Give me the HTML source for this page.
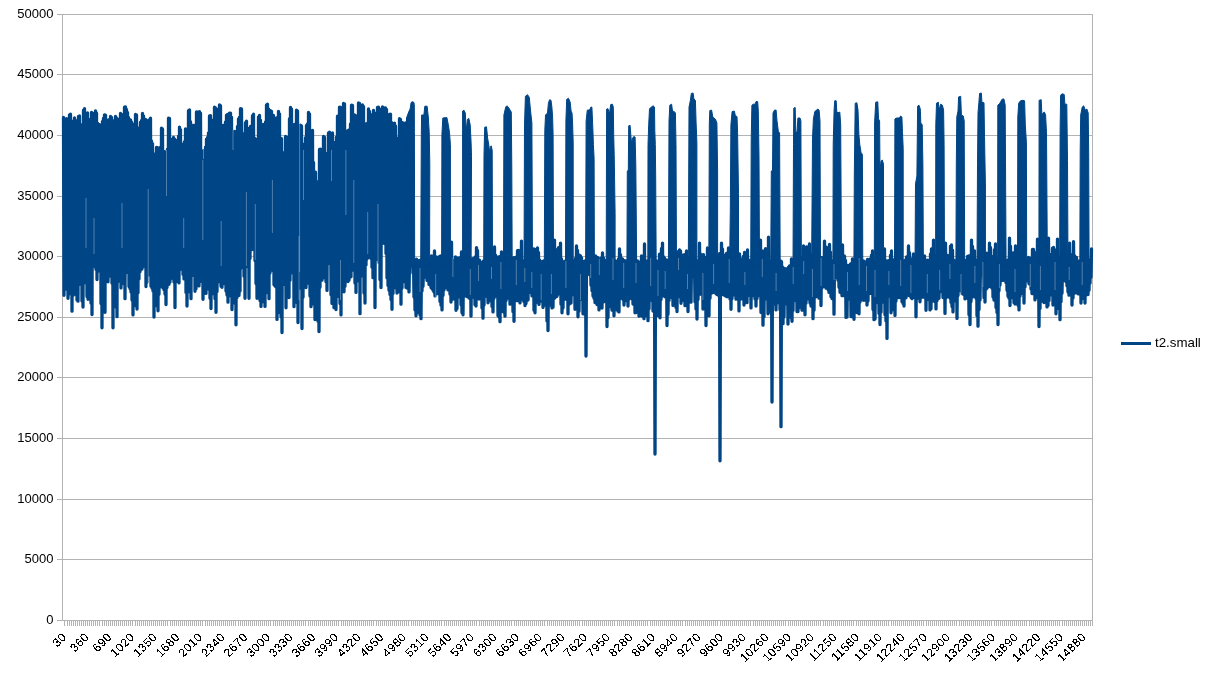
<!DOCTYPE html>
<html><head><meta charset="utf-8"><title>chart</title>
<style>
html,body{margin:0;padding:0;background:#fff;}
body{width:1220px;height:686px;position:relative;overflow:hidden;font-family:"Liberation Sans",sans-serif;}
svg text{font-family:"Liberation Sans",sans-serif;}
</style></head><body>
<svg width="1220" height="686" viewBox="0 0 1220 686" style="position:absolute;left:0;top:0;will-change:transform">
<path d="M57,14.5 H1092.5 M57,74.5 H1092.5 M57,135.5 H1092.5 M57,196.5 H1092.5 M57,256.5 H1092.5 M57,317.5 H1092.5 M57,377.5 H1092.5 M57,438.5 H1092.5 M57,499.5 H1092.5 M57,559.5 H1092.5 M57,620.5 H1092.5" stroke="#b3b3b3" stroke-width="1" fill="none" shape-rendering="crispEdges"/>
<path d="M62.5,14 V621 M1092.5,14 V621" stroke="#b3b3b3" stroke-width="1" fill="none" shape-rendering="crispEdges"/>
<path d="M64.5,620 V626 M67.5,620 V626 M69.5,620 V626 M71.5,620 V626 M73.5,620 V626 M75.5,620 V626 M77.5,620 V626 M79.5,620 V626 M81.5,620 V626 M83.5,620 V626 M85.5,620 V626 M87.5,620 V626 M89.5,620 V626 M91.5,620 V626 M93.5,620 V626 M95.5,620 V626 M97.5,620 V626 M99.5,620 V626 M102.5,620 V626 M104.5,620 V626 M106.5,620 V626 M108.5,620 V626 M110.5,620 V626 M112.5,620 V626 M114.5,620 V626 M116.5,620 V626 M118.5,620 V626 M120.5,620 V626 M122.5,620 V626 M124.5,620 V626 M126.5,620 V626 M128.5,620 V626 M130.5,620 V626 M132.5,620 V626 M135.5,620 V626 M137.5,620 V626 M139.5,620 V626 M141.5,620 V626 M143.5,620 V626 M145.5,620 V626 M147.5,620 V626 M149.5,620 V626 M151.5,620 V626 M153.5,620 V626 M155.5,620 V626 M157.5,620 V626 M159.5,620 V626 M161.5,620 V626 M163.5,620 V626 M165.5,620 V626 M167.5,620 V626 M170.5,620 V626 M172.5,620 V626 M174.5,620 V626 M176.5,620 V626 M178.5,620 V626 M180.5,620 V626 M182.5,620 V626 M184.5,620 V626 M186.5,620 V626 M188.5,620 V626 M190.5,620 V626 M192.5,620 V626 M194.5,620 V626 M196.5,620 V626 M198.5,620 V626 M200.5,620 V626 M202.5,620 V626 M205.5,620 V626 M207.5,620 V626 M209.5,620 V626 M211.5,620 V626 M213.5,620 V626 M215.5,620 V626 M217.5,620 V626 M219.5,620 V626 M221.5,620 V626 M223.5,620 V626 M225.5,620 V626 M227.5,620 V626 M229.5,620 V626 M231.5,620 V626 M233.5,620 V626 M235.5,620 V626 M238.5,620 V626 M240.5,620 V626 M242.5,620 V626 M244.5,620 V626 M246.5,620 V626 M248.5,620 V626 M250.5,620 V626 M252.5,620 V626 M254.5,620 V626 M256.5,620 V626 M258.5,620 V626 M260.5,620 V626 M262.5,620 V626 M264.5,620 V626 M266.5,620 V626 M268.5,620 V626 M270.5,620 V626 M273.5,620 V626 M275.5,620 V626 M277.5,620 V626 M279.5,620 V626 M281.5,620 V626 M283.5,620 V626 M285.5,620 V626 M287.5,620 V626 M289.5,620 V626 M291.5,620 V626 M293.5,620 V626 M295.5,620 V626 M297.5,620 V626 M299.5,620 V626 M301.5,620 V626 M303.5,620 V626 M305.5,620 V626 M308.5,620 V626 M310.5,620 V626 M312.5,620 V626 M314.5,620 V626 M316.5,620 V626 M318.5,620 V626 M320.5,620 V626 M322.5,620 V626 M324.5,620 V626 M326.5,620 V626 M328.5,620 V626 M330.5,620 V626 M332.5,620 V626 M334.5,620 V626 M336.5,620 V626 M338.5,620 V626 M341.5,620 V626 M343.5,620 V626 M345.5,620 V626 M347.5,620 V626 M349.5,620 V626 M351.5,620 V626 M353.5,620 V626 M355.5,620 V626 M357.5,620 V626 M359.5,620 V626 M361.5,620 V626 M363.5,620 V626 M365.5,620 V626 M367.5,620 V626 M369.5,620 V626 M371.5,620 V626 M373.5,620 V626 M376.5,620 V626 M378.5,620 V626 M380.5,620 V626 M382.5,620 V626 M384.5,620 V626 M386.5,620 V626 M388.5,620 V626 M390.5,620 V626 M392.5,620 V626 M394.5,620 V626 M396.5,620 V626 M398.5,620 V626 M400.5,620 V626 M402.5,620 V626 M404.5,620 V626 M406.5,620 V626 M408.5,620 V626 M411.5,620 V626 M413.5,620 V626 M415.5,620 V626 M417.5,620 V626 M419.5,620 V626 M421.5,620 V626 M423.5,620 V626 M425.5,620 V626 M427.5,620 V626 M429.5,620 V626 M431.5,620 V626 M433.5,620 V626 M435.5,620 V626 M437.5,620 V626 M439.5,620 V626 M441.5,620 V626 M444.5,620 V626 M446.5,620 V626 M448.5,620 V626 M450.5,620 V626 M452.5,620 V626 M454.5,620 V626 M456.5,620 V626 M458.5,620 V626 M460.5,620 V626 M462.5,620 V626 M464.5,620 V626 M466.5,620 V626 M468.5,620 V626 M470.5,620 V626 M472.5,620 V626 M474.5,620 V626 M476.5,620 V626 M479.5,620 V626 M481.5,620 V626 M483.5,620 V626 M485.5,620 V626 M487.5,620 V626 M489.5,620 V626 M491.5,620 V626 M493.5,620 V626 M495.5,620 V626 M497.5,620 V626 M499.5,620 V626 M501.5,620 V626 M503.5,620 V626 M505.5,620 V626 M507.5,620 V626 M509.5,620 V626 M511.5,620 V626 M514.5,620 V626 M516.5,620 V626 M518.5,620 V626 M520.5,620 V626 M522.5,620 V626 M524.5,620 V626 M526.5,620 V626 M528.5,620 V626 M530.5,620 V626 M532.5,620 V626 M534.5,620 V626 M536.5,620 V626 M538.5,620 V626 M540.5,620 V626 M542.5,620 V626 M544.5,620 V626 M547.5,620 V626 M549.5,620 V626 M551.5,620 V626 M553.5,620 V626 M555.5,620 V626 M557.5,620 V626 M559.5,620 V626 M561.5,620 V626 M563.5,620 V626 M565.5,620 V626 M567.5,620 V626 M569.5,620 V626 M571.5,620 V626 M573.5,620 V626 M575.5,620 V626 M577.5,620 V626 M579.5,620 V626 M582.5,620 V626 M584.5,620 V626 M586.5,620 V626 M588.5,620 V626 M590.5,620 V626 M592.5,620 V626 M594.5,620 V626 M596.5,620 V626 M598.5,620 V626 M600.5,620 V626 M602.5,620 V626 M604.5,620 V626 M606.5,620 V626 M608.5,620 V626 M610.5,620 V626 M612.5,620 V626 M614.5,620 V626 M617.5,620 V626 M619.5,620 V626 M621.5,620 V626 M623.5,620 V626 M625.5,620 V626 M627.5,620 V626 M629.5,620 V626 M631.5,620 V626 M633.5,620 V626 M635.5,620 V626 M637.5,620 V626 M639.5,620 V626 M641.5,620 V626 M643.5,620 V626 M645.5,620 V626 M647.5,620 V626 M650.5,620 V626 M652.5,620 V626 M654.5,620 V626 M656.5,620 V626 M658.5,620 V626 M660.5,620 V626 M662.5,620 V626 M664.5,620 V626 M666.5,620 V626 M668.5,620 V626 M670.5,620 V626 M672.5,620 V626 M674.5,620 V626 M676.5,620 V626 M678.5,620 V626 M680.5,620 V626 M682.5,620 V626 M685.5,620 V626 M687.5,620 V626 M689.5,620 V626 M691.5,620 V626 M693.5,620 V626 M695.5,620 V626 M697.5,620 V626 M699.5,620 V626 M701.5,620 V626 M703.5,620 V626 M705.5,620 V626 M707.5,620 V626 M709.5,620 V626 M711.5,620 V626 M713.5,620 V626 M715.5,620 V626 M717.5,620 V626 M720.5,620 V626 M722.5,620 V626 M724.5,620 V626 M726.5,620 V626 M728.5,620 V626 M730.5,620 V626 M732.5,620 V626 M734.5,620 V626 M736.5,620 V626 M738.5,620 V626 M740.5,620 V626 M742.5,620 V626 M744.5,620 V626 M746.5,620 V626 M748.5,620 V626 M750.5,620 V626 M753.5,620 V626 M755.5,620 V626 M757.5,620 V626 M759.5,620 V626 M761.5,620 V626 M763.5,620 V626 M765.5,620 V626 M767.5,620 V626 M769.5,620 V626 M771.5,620 V626 M773.5,620 V626 M775.5,620 V626 M777.5,620 V626 M779.5,620 V626 M781.5,620 V626 M783.5,620 V626 M785.5,620 V626 M788.5,620 V626 M790.5,620 V626 M792.5,620 V626 M794.5,620 V626 M796.5,620 V626 M798.5,620 V626 M800.5,620 V626 M802.5,620 V626 M804.5,620 V626 M806.5,620 V626 M808.5,620 V626 M810.5,620 V626 M812.5,620 V626 M814.5,620 V626 M816.5,620 V626 M818.5,620 V626 M820.5,620 V626 M823.5,620 V626 M825.5,620 V626 M827.5,620 V626 M829.5,620 V626 M831.5,620 V626 M833.5,620 V626 M835.5,620 V626 M837.5,620 V626 M839.5,620 V626 M841.5,620 V626 M843.5,620 V626 M845.5,620 V626 M847.5,620 V626 M849.5,620 V626 M851.5,620 V626 M853.5,620 V626 M856.5,620 V626 M858.5,620 V626 M860.5,620 V626 M862.5,620 V626 M864.5,620 V626 M866.5,620 V626 M868.5,620 V626 M870.5,620 V626 M872.5,620 V626 M874.5,620 V626 M876.5,620 V626 M878.5,620 V626 M880.5,620 V626 M882.5,620 V626 M884.5,620 V626 M886.5,620 V626 M888.5,620 V626 M891.5,620 V626 M893.5,620 V626 M895.5,620 V626 M897.5,620 V626 M899.5,620 V626 M901.5,620 V626 M903.5,620 V626 M905.5,620 V626 M907.5,620 V626 M909.5,620 V626 M911.5,620 V626 M913.5,620 V626 M915.5,620 V626 M917.5,620 V626 M919.5,620 V626 M921.5,620 V626 M923.5,620 V626 M926.5,620 V626 M928.5,620 V626 M930.5,620 V626 M932.5,620 V626 M934.5,620 V626 M936.5,620 V626 M938.5,620 V626 M940.5,620 V626 M942.5,620 V626 M944.5,620 V626 M946.5,620 V626 M948.5,620 V626 M950.5,620 V626 M952.5,620 V626 M954.5,620 V626 M956.5,620 V626 M959.5,620 V626 M961.5,620 V626 M963.5,620 V626 M965.5,620 V626 M967.5,620 V626 M969.5,620 V626 M971.5,620 V626 M973.5,620 V626 M975.5,620 V626 M977.5,620 V626 M979.5,620 V626 M981.5,620 V626 M983.5,620 V626 M985.5,620 V626 M987.5,620 V626 M989.5,620 V626 M991.5,620 V626 M994.5,620 V626 M996.5,620 V626 M998.5,620 V626 M1000.5,620 V626 M1002.5,620 V626 M1004.5,620 V626 M1006.5,620 V626 M1008.5,620 V626 M1010.5,620 V626 M1012.5,620 V626 M1014.5,620 V626 M1016.5,620 V626 M1018.5,620 V626 M1020.5,620 V626 M1022.5,620 V626 M1024.5,620 V626 M1026.5,620 V626 M1029.5,620 V626 M1031.5,620 V626 M1033.5,620 V626 M1035.5,620 V626 M1037.5,620 V626 M1039.5,620 V626 M1041.5,620 V626 M1043.5,620 V626 M1045.5,620 V626 M1047.5,620 V626 M1049.5,620 V626 M1051.5,620 V626 M1053.5,620 V626 M1055.5,620 V626 M1057.5,620 V626 M1059.5,620 V626 M1062.5,620 V626 M1064.5,620 V626 M1066.5,620 V626 M1068.5,620 V626 M1070.5,620 V626 M1072.5,620 V626 M1074.5,620 V626 M1076.5,620 V626 M1078.5,620 V626 M1080.5,620 V626 M1082.5,620 V626 M1084.5,620 V626 M1086.5,620 V626 M1088.5,620 V626 M1090.5,620 V626 M1092.5,620 V626" stroke="#b3b3b3" stroke-width="1" fill="none" shape-rendering="crispEdges"/>
<path d="M63.5,117.5 L64.0,295.3 L64.5,135.1 L65.0,287.9 L65.5,121.2 L66.0,279.0 L66.5,118.7 L67.0,289.4 L67.5,122.9 L68.0,298.3 L68.5,126.1 L69.0,294.0 L69.5,115.0 L70.0,287.4 L70.5,114.2 L71.0,293.4 L71.5,121.0 L72.0,311.2 L72.5,122.9 L73.0,295.4 L73.5,123.7 L74.0,292.6 L74.5,117.9 L75.0,293.5 L75.5,120.4 L76.0,294.6 L76.5,124.3 L77.0,300.0 L77.5,124.5 L78.0,301.2 L78.5,116.3 L79.0,284.6 L79.5,116.0 L80.0,277.3 L80.5,129.6 L81.0,280.7 L81.5,129.5 L82.0,301.0 L82.5,124.4 L83.0,307.1 L83.5,110.1 L84.0,283.1 L84.5,108.6 L85.0,274.9 L85.5,113.7 L86.0,275.5 L86.5,115.3 L87.0,296.6 L87.5,112.8 L88.0,299.3 L88.5,119.1 L89.0,297.4 L89.5,126.1 L90.0,289.9 L90.5,124.2 L91.0,303.1 L91.5,112.3 L92.0,314.5 L92.5,113.1 L93.0,266.8 L93.5,123.8 L94.0,247.3 L94.5,123.9 L95.0,242.9 L95.5,110.8 L96.0,269.4 L96.5,113.0 L97.0,279.5 L97.5,123.2 L98.0,271.3 L98.5,125.8 L99.0,263.0 L99.5,124.6 L100.0,270.1 L100.5,135.0 L101.0,303.6 L101.5,134.8 L102.0,327.8 L102.5,121.3 L103.0,300.6 L103.5,118.2 L104.0,294.1 L104.5,114.8 L105.0,312.3 L105.5,115.1 L106.0,280.7 L106.5,121.0 L107.0,274.9 L107.5,123.4 L108.0,281.8 L108.5,119.9 L109.0,276.4 L109.5,120.5 L110.0,268.0 L110.5,116.5 L111.0,269.8 L111.5,117.3 L112.0,283.2 L112.5,124.5 L113.0,327.8 L113.5,120.8 L114.0,304.5 L114.5,120.9 L115.0,299.4 L115.5,116.5 L116.0,307.0 L116.5,117.8 L117.0,316.7 L117.5,119.7 L118.0,281.6 L118.5,119.3 L119.0,272.5 L119.5,119.5 L120.0,280.5 L120.5,113.5 L121.0,287.9 L121.5,114.3 L122.0,283.8 L122.5,121.4 L123.0,277.7 L123.5,119.9 L124.0,282.3 L124.5,107.2 L125.0,298.7 L125.5,106.9 L126.0,272.8 L126.5,109.5 L127.0,271.0 L127.5,112.3 L128.0,270.4 L128.5,117.5 L129.0,286.5 L129.5,122.0 L130.0,288.6 L130.5,119.8 L131.0,292.0 L131.5,122.0 L132.0,300.0 L132.5,126.7 L133.0,314.9 L133.5,125.9 L134.0,305.8 L134.5,123.9 L135.0,296.5 L135.5,114.5 L136.0,303.8 L136.5,114.8 L137.0,309.0 L137.5,128.0 L138.0,292.8 L138.5,128.1 L139.0,278.9 L139.5,127.8 L140.0,271.7 L140.5,122.2 L141.0,266.1 L141.5,120.5 L142.0,269.0 L142.5,113.4 L143.0,266.5 L143.5,115.9 L144.0,261.3 L144.5,123.1 L145.0,264.9 L145.5,119.5 L146.0,286.5 L146.5,121.8 L147.0,282.3 L147.5,129.0 L148.0,273.0 L148.5,120.1 L149.0,273.5 L149.5,120.7 L150.0,275.2 L150.5,118.2 L151.0,286.2 L151.5,141.0 L152.0,288.1 L152.5,143.6 L153.0,290.9 L153.5,153.6 L154.0,317.0 L154.5,156.0 L155.0,302.4 L155.5,156.2 L156.0,296.4 L156.5,147.4 L157.0,305.9 L157.5,147.6 L158.0,310.8 L158.5,161.2 L159.0,294.3 L159.5,153.0 L160.0,283.7 L160.5,147.2 L161.0,278.3 L161.5,128.1 L162.0,287.0 L162.5,128.9 L163.0,287.9 L163.5,167.0 L164.0,289.7 L164.5,151.7 L165.0,294.0 L165.5,157.6 L166.0,304.6 L166.5,156.0 L167.0,287.6 L167.5,149.2 L168.0,278.2 L168.5,118.2 L169.0,284.3 L169.5,118.5 L170.0,282.1 L170.5,138.8 L171.0,275.9 L171.5,140.1 L172.0,273.3 L172.5,140.0 L173.0,278.5 L173.5,137.4 L174.0,282.1 L174.5,138.9 L175.0,307.5 L175.5,143.8 L176.0,281.7 L176.5,140.7 L177.0,280.9 L177.5,141.9 L178.0,280.3 L178.5,136.2 L179.0,282.9 L179.5,127.1 L180.0,269.6 L180.5,129.6 L181.0,267.5 L181.5,144.1 L182.0,266.2 L182.5,146.0 L183.0,274.4 L183.5,143.8 L184.0,278.9 L184.5,141.7 L185.0,273.3 L185.5,129.0 L186.0,292.4 L186.5,131.5 L187.0,306.1 L187.5,138.6 L188.0,282.2 L188.5,110.6 L189.0,281.3 L189.5,109.8 L190.0,292.0 L190.5,121.6 L191.0,298.7 L191.5,124.8 L192.0,275.7 L192.5,125.8 L193.0,265.6 L193.5,125.4 L194.0,266.2 L194.5,129.2 L195.0,291.3 L195.5,124.9 L196.0,288.8 L196.5,111.9 L197.0,280.5 L197.5,112.2 L198.0,279.8 L198.5,127.5 L199.0,285.9 L199.5,111.6 L200.0,281.7 L200.5,113.1 L201.0,275.5 L201.5,158.0 L202.0,281.6 L202.5,158.9 L203.0,299.3 L203.5,150.6 L204.0,283.3 L204.5,156.0 L205.0,282.9 L205.5,147.1 L206.0,293.4 L206.5,139.1 L207.0,287.7 L207.5,137.3 L208.0,288.1 L208.5,132.8 L209.0,289.3 L209.5,116.0 L210.0,298.3 L210.5,115.7 L211.0,308.6 L211.5,119.8 L212.0,294.1 L212.5,126.4 L213.0,267.6 L213.5,126.5 L214.0,270.9 L214.5,107.2 L215.0,298.7 L215.5,108.0 L216.0,312.3 L216.5,122.4 L217.0,291.6 L217.5,122.3 L218.0,282.0 L218.5,109.0 L219.0,281.0 L219.5,104.9 L220.0,279.0 L220.5,105.7 L221.0,286.3 L221.5,137.1 L222.0,287.3 L222.5,125.6 L223.0,280.1 L223.5,125.4 L224.0,282.1 L224.5,125.1 L225.0,283.8 L225.5,122.0 L226.0,291.1 L226.5,115.2 L227.0,295.0 L227.5,114.4 L228.0,302.2 L228.5,114.8 L229.0,296.0 L229.5,113.1 L230.0,289.0 L230.5,113.1 L231.0,294.4 L231.5,117.1 L232.0,309.6 L232.5,131.5 L233.0,294.0 L233.5,137.4 L234.0,289.1 L234.5,131.3 L235.0,303.2 L235.5,140.2 L236.0,324.8 L236.5,140.0 L237.0,297.5 L237.5,126.3 L238.0,289.1 L238.5,118.8 L239.0,295.4 L239.5,117.1 L240.0,291.1 L240.5,108.6 L241.0,268.1 L241.5,108.9 L242.0,258.5 L242.5,134.5 L243.0,256.7 L243.5,135.6 L244.0,276.3 L244.5,133.3 L245.0,298.3 L245.5,122.7 L246.0,253.0 L246.5,121.2 L247.0,248.8 L247.5,139.1 L248.0,266.8 L248.5,139.0 L249.0,298.3 L249.5,128.1 L250.0,258.5 L250.5,126.4 L251.0,244.3 L251.5,133.7 L252.0,249.6 L252.5,115.7 L253.0,247.4 L253.5,114.2 L254.0,243.5 L254.5,138.1 L255.0,260.6 L255.5,140.4 L256.0,283.5 L256.5,139.4 L257.0,298.3 L257.5,140.1 L258.0,283.8 L258.5,116.8 L259.0,284.8 L259.5,115.3 L260.0,300.6 L260.5,120.2 L261.0,306.4 L261.5,124.1 L262.0,302.0 L262.5,124.6 L263.0,294.8 L263.5,125.2 L264.0,301.8 L264.5,124.2 L265.0,306.4 L265.5,121.9 L266.0,292.9 L266.5,105.0 L267.0,280.1 L267.5,104.2 L268.0,280.2 L268.5,108.8 L269.0,298.7 L269.5,121.7 L270.0,273.1 L270.5,110.7 L271.0,260.5 L271.5,111.3 L272.0,262.1 L272.5,116.7 L273.0,270.5 L273.5,115.5 L274.0,284.7 L274.5,117.8 L275.0,286.1 L275.5,131.4 L276.0,286.9 L276.5,118.0 L277.0,319.4 L277.5,120.4 L278.0,312.8 L278.5,111.3 L279.0,302.0 L279.5,113.8 L280.0,309.0 L280.5,147.5 L281.0,316.8 L281.5,138.6 L282.0,332.6 L282.5,152.7 L283.0,274.8 L283.5,152.9 L284.0,279.0 L284.5,152.6 L285.0,284.4 L285.5,136.4 L286.0,307.8 L286.5,137.2 L287.0,297.3 L287.5,147.6 L288.0,291.8 L288.5,146.5 L289.0,297.6 L289.5,118.7 L290.0,280.3 L290.5,107.5 L291.0,250.7 L291.5,109.0 L292.0,247.3 L292.5,130.1 L293.0,273.2 L293.5,132.0 L294.0,306.7 L294.5,124.4 L295.0,284.5 L295.5,124.7 L296.0,280.5 L296.5,110.1 L297.0,302.6 L297.5,110.9 L298.0,322.6 L298.5,127.5 L299.0,263.3 L299.5,127.4 L300.0,268.3 L300.5,125.2 L301.0,288.4 L301.5,126.0 L302.0,328.5 L302.5,149.7 L303.0,297.3 L303.5,153.7 L304.0,281.3 L304.5,143.9 L305.0,279.8 L305.5,137.6 L306.0,287.6 L306.5,125.3 L307.0,282.7 L307.5,123.8 L308.0,282.8 L308.5,112.3 L309.0,283.5 L309.5,113.8 L310.0,296.0 L310.5,144.6 L311.0,306.7 L311.5,131.8 L312.0,303.1 L312.5,130.3 L313.0,295.4 L313.5,162.5 L314.0,304.2 L314.5,177.6 L315.0,319.6 L315.5,172.2 L316.0,307.7 L316.5,183.6 L317.0,307.3 L317.5,183.8 L318.0,321.3 L318.5,181.3 L319.0,331.5 L319.5,149.5 L320.0,287.3 L320.5,149.2 L321.0,274.2 L321.5,155.0 L322.0,280.2 L322.5,154.9 L323.0,278.1 L323.5,136.4 L324.0,275.7 L324.5,137.2 L325.0,276.3 L325.5,155.4 L326.0,281.7 L326.5,156.6 L327.0,290.4 L327.5,153.2 L328.0,262.7 L328.5,133.0 L329.0,251.3 L329.5,132.2 L330.0,263.8 L330.5,133.7 L331.0,294.8 L331.5,134.5 L332.0,303.4 L332.5,133.0 L333.0,296.4 L333.5,142.5 L334.0,307.7 L334.5,142.6 L335.0,305.5 L335.5,142.4 L336.0,309.6 L336.5,137.1 L337.0,269.6 L337.5,116.2 L338.0,271.3 L338.5,123.3 L339.0,296.7 L339.5,107.2 L340.0,303.5 L340.5,107.5 L341.0,314.9 L341.5,148.1 L342.0,281.4 L342.5,140.9 L343.0,280.9 L343.5,103.5 L344.0,291.8 L344.5,103.8 L345.0,286.3 L345.5,139.1 L346.0,279.0 L346.5,139.3 L347.0,276.5 L347.5,131.0 L348.0,281.5 L348.5,130.2 L349.0,280.2 L349.5,133.2 L350.0,272.8 L350.5,123.9 L351.0,276.8 L351.5,105.2 L352.0,270.1 L352.5,105.5 L353.0,270.1 L353.5,116.2 L354.0,270.1 L354.5,115.0 L355.0,283.1 L355.5,115.7 L356.0,292.4 L356.5,119.2 L357.0,260.2 L357.5,118.2 L358.0,244.6 L358.5,103.0 L359.0,281.2 L359.5,103.3 L360.0,313.7 L360.5,119.1 L361.0,269.4 L361.5,105.7 L362.0,270.3 L362.5,104.9 L363.0,276.2 L363.5,106.4 L364.0,293.1 L364.5,134.5 L365.0,303.1 L365.5,135.2 L366.0,265.0 L366.5,123.7 L367.0,259.1 L367.5,123.2 L368.0,257.8 L368.5,108.9 L369.0,251.4 L369.5,111.4 L370.0,244.8 L370.5,115.9 L371.0,258.6 L371.5,115.0 L372.0,267.2 L372.5,115.5 L373.0,277.7 L373.5,110.3 L374.0,277.7 L374.5,118.3 L375.0,307.5 L375.5,118.2 L376.0,259.7 L376.5,113.0 L377.0,241.9 L377.5,107.5 L378.0,239.1 L378.5,107.2 L379.0,262.8 L379.5,108.9 L380.0,279.6 L380.5,111.6 L381.0,287.5 L381.5,111.1 L382.0,239.1 L382.5,106.9 L383.0,238.7 L383.5,107.7 L384.0,243.3 L384.5,112.3 L385.0,242.2 L385.5,107.9 L386.0,253.4 L386.5,109.4 L387.0,277.9 L387.5,120.5 L388.0,285.6 L388.5,116.3 L389.0,290.3 L389.5,114.5 L390.0,294.4 L390.5,114.2 L391.0,299.6 L391.5,122.3 L392.0,309.3 L392.5,123.4 L393.0,293.4 L393.5,124.6 L394.0,287.4 L394.5,123.2 L395.0,287.3 L395.5,125.9 L396.0,288.0 L396.5,138.5 L397.0,293.0 L397.5,138.5 L398.0,292.0 L398.5,138.9 L399.0,286.8 L399.5,118.7 L400.0,289.8 L400.5,119.5 L401.0,304.2 L401.5,125.7 L402.0,288.0 L402.5,122.7 L403.0,281.7 L403.5,123.7 L404.0,281.6 L404.5,134.7 L405.0,281.2 L405.5,122.8 L406.0,287.4 L406.5,261.0 L407.0,288.0 L407.5,261.0 L408.0,279.5 L408.5,261.0 L409.0,291.9 L409.5,261.0 L410.0,245.8 L410.5,261.0 L411.0,244.0 L411.5,261.0 L412.0,262.5 L412.5,261.0 L413.0,273.2 L413.5,261.0 L414.0,297.1 L414.5,261.0 L415.0,309.9 L415.5,261.0 L416.0,315.8 L416.5,259.1 L417.0,312.8 L417.5,260.3 L418.0,299.9 L418.5,264.1 L419.0,299.9 L419.5,260.5 L420.0,315.0 L420.5,261.0 L421.0,318.7 L421.5,261.0 L422.0,290.9 L422.5,261.0 L423.0,286.3 L423.5,261.0 L424.0,275.1 L424.5,261.0 L425.0,277.1 L425.5,261.0 L426.0,276.2 L426.5,261.0 L427.0,280.4 L427.5,261.0 L428.0,279.2 L428.5,261.0 L429.0,284.4 L429.5,261.0 L430.0,284.8 L430.5,261.0 L431.0,287.5 L431.5,255.9 L432.0,288.7 L432.5,257.2 L433.0,290.3 L433.5,257.0 L434.0,292.0 L434.5,250.9 L435.0,295.9 L435.5,256.5 L436.0,293.6 L436.5,260.0 L437.0,293.6 L437.5,260.0 L438.0,293.6 L438.5,256.8 L439.0,293.6 L439.5,265.6 L440.0,301.4 L440.5,255.8 L441.0,305.2 L441.5,261.0 L442.0,309.9 L442.5,261.0 L443.0,295.4 L443.5,261.0 L444.0,289.9 L444.5,261.0 L445.0,287.9 L445.5,261.0 L446.0,286.8 L446.5,261.0 L447.0,287.1 L447.5,261.0 L448.0,289.9 L448.5,261.0 L449.0,285.8 L449.5,261.0 L450.0,294.2 L450.5,261.0 L451.0,302.0 L451.5,242.1 L452.0,296.4 L452.5,263.3 L453.0,299.1 L453.5,260.3 L454.0,298.8 L454.5,261.1 L455.0,299.1 L455.5,257.0 L456.0,310.3 L456.5,258.3 L457.0,308.4 L457.5,258.2 L458.0,297.2 L458.5,258.1 L459.0,296.2 L459.5,258.0 L460.0,295.5 L460.5,261.8 L461.0,304.8 L461.5,251.9 L462.0,312.7 L462.5,261.0 L463.0,314.8 L463.5,261.0 L464.0,294.2 L464.5,261.0 L465.0,295.9 L465.5,261.0 L466.0,295.9 L466.5,261.0 L467.0,296.6 L467.5,261.0 L468.0,294.9 L468.5,261.0 L469.0,298.0 L469.5,261.0 L470.0,298.0 L470.5,261.0 L471.0,316.2 L471.5,261.0 L472.0,297.1 L472.5,258.6 L473.0,297.1 L473.5,264.3 L474.0,297.1 L474.5,258.0 L475.0,304.8 L475.5,256.6 L476.0,306.0 L476.5,247.6 L477.0,296.3 L477.5,250.4 L478.0,296.3 L478.5,260.1 L479.0,299.1 L479.5,260.1 L480.0,295.3 L480.5,261.8 L481.0,295.3 L481.5,266.0 L482.0,308.1 L482.5,263.5 L483.0,318.2 L483.5,261.0 L484.0,305.1 L484.5,261.0 L485.0,293.5 L485.5,261.0 L486.0,293.5 L486.5,261.0 L487.0,296.6 L487.5,261.0 L488.0,302.8 L488.5,261.0 L489.0,300.6 L489.5,261.0 L490.0,300.6 L490.5,261.0 L491.0,300.6 L491.5,261.0 L492.0,306.4 L492.5,261.0 L493.0,311.9 L493.5,263.6 L494.0,298.3 L494.5,247.0 L495.0,296.3 L495.5,255.2 L496.0,295.1 L496.5,256.6 L497.0,294.3 L497.5,257.1 L498.0,315.7 L498.5,257.3 L499.0,317.1 L499.5,256.6 L500.0,321.7 L500.5,257.3 L501.0,311.9 L501.5,251.9 L502.0,302.1 L502.5,261.0 L503.0,302.3 L503.5,261.0 L504.0,312.3 L504.5,261.0 L505.0,316.2 L505.5,261.0 L506.0,300.7 L506.5,261.0 L507.0,286.4 L507.5,261.0 L508.0,290.2 L508.5,261.0 L509.0,298.4 L509.5,261.0 L510.0,304.2 L510.5,261.0 L511.0,296.2 L511.5,261.0 L512.0,296.2 L512.5,261.0 L513.0,311.7 L513.5,257.7 L514.0,321.3 L514.5,259.5 L515.0,299.3 L515.5,257.4 L516.0,300.5 L516.5,257.2 L517.0,300.5 L517.5,250.6 L518.0,300.5 L518.5,250.3 L519.0,297.6 L519.5,256.6 L520.0,302.9 L520.5,254.9 L521.0,299.6 L521.5,241.1 L522.0,299.6 L522.5,262.2 L523.0,298.6 L523.5,261.0 L524.0,301.7 L524.5,261.0 L525.0,305.6 L525.5,261.0 L526.0,303.6 L526.5,261.0 L527.0,300.1 L527.5,261.0 L528.0,300.1 L528.5,261.0 L529.0,291.0 L529.5,261.0 L530.0,287.7 L530.5,261.0 L531.0,292.7 L531.5,261.0 L532.0,295.9 L532.5,261.0 L533.0,295.9 L533.5,248.9 L534.0,310.3 L534.5,249.2 L535.0,312.8 L535.5,252.4 L536.0,302.6 L536.5,252.4 L537.0,297.5 L537.5,247.9 L538.0,297.5 L538.5,252.5 L539.0,304.4 L539.5,259.9 L540.0,301.4 L540.5,261.2 L541.0,297.1 L541.5,261.7 L542.0,297.1 L542.5,263.3 L543.0,307.4 L543.5,261.0 L544.0,299.1 L544.5,261.0 L545.0,304.5 L545.5,261.0 L546.0,305.4 L546.5,261.0 L547.0,320.9 L547.5,261.0 L548.0,330.5 L548.5,261.0 L549.0,305.4 L549.5,261.0 L550.0,297.5 L550.5,261.0 L551.0,297.5 L551.5,261.0 L552.0,307.9 L552.5,261.0 L553.0,307.2 L553.5,261.0 L554.0,298.7 L554.5,240.1 L555.0,297.7 L555.5,263.5 L556.0,295.3 L556.5,258.9 L557.0,296.3 L557.5,249.3 L558.0,292.4 L558.5,247.7 L559.0,293.9 L559.5,255.7 L560.0,293.9 L560.5,243.1 L561.0,304.2 L561.5,258.9 L562.0,312.8 L562.5,261.2 L563.0,308.0 L563.5,264.9 L564.0,299.2 L564.5,262.6 L565.0,299.2 L565.5,261.0 L566.0,299.2 L566.5,261.0 L567.0,299.2 L567.5,261.0 L568.0,313.8 L568.5,261.0 L569.0,304.4 L569.5,261.0 L570.0,297.3 L570.5,261.0 L571.0,303.1 L571.5,261.0 L572.0,294.6 L572.5,261.0 L573.0,294.6 L573.5,261.0 L574.0,294.6 L574.5,265.4 L575.0,309.3 L575.5,258.3 L576.0,297.0 L576.5,246.0 L577.0,297.0 L577.5,250.3 L578.0,316.8 L578.5,255.1 L579.0,311.2 L579.5,255.1 L580.0,298.9 L580.5,255.9 L581.0,298.9 L581.5,257.7 L582.0,299.7 L582.5,262.8 L583.0,313.8 L583.5,264.7 L584.0,295.9 L584.5,261.2 L585.0,290.8 L585.5,261.0 L586.0,356.0 L586.5,261.0 L587.0,274.8 L587.5,261.0 L588.0,273.2 L588.5,261.0 L589.0,273.9 L589.5,261.0 L590.0,274.9 L590.5,261.0 L591.0,285.3 L591.5,261.0 L592.0,290.6 L592.5,261.0 L593.0,296.1 L593.5,261.0 L594.0,298.3 L594.5,261.0 L595.0,302.6 L595.5,255.8 L596.0,293.3 L596.5,263.6 L597.0,304.6 L597.5,257.3 L598.0,299.3 L598.5,259.6 L599.0,309.9 L599.5,259.9 L600.0,300.4 L600.5,258.5 L601.0,295.9 L601.5,259.6 L602.0,308.1 L602.5,252.9 L603.0,302.2 L603.5,258.0 L604.0,295.4 L604.5,260.1 L605.0,296.4 L605.5,261.0 L606.0,301.9 L606.5,261.0 L607.0,326.6 L607.5,261.0 L608.0,317.5 L608.5,261.0 L609.0,298.5 L609.5,261.0 L610.0,298.1 L610.5,261.0 L611.0,306.9 L611.5,261.0 L612.0,310.2 L612.5,261.0 L613.0,294.7 L613.5,261.0 L614.0,315.8 L614.5,261.0 L615.0,309.9 L615.5,261.0 L616.0,295.3 L616.5,263.0 L617.0,295.3 L617.5,263.2 L618.0,311.2 L618.5,259.0 L619.0,311.9 L619.5,249.0 L620.0,298.5 L620.5,254.6 L621.0,298.1 L621.5,259.0 L622.0,298.1 L622.5,258.8 L623.0,299.5 L623.5,260.6 L624.0,305.0 L624.5,260.6 L625.0,299.7 L625.5,262.3 L626.0,300.5 L626.5,261.0 L627.0,300.5 L627.5,261.0 L628.0,306.0 L628.5,261.0 L629.0,299.0 L629.5,261.0 L630.0,291.7 L630.5,261.0 L631.0,292.3 L631.5,261.0 L632.0,298.9 L632.5,261.0 L633.0,304.0 L633.5,261.0 L634.0,303.0 L634.5,261.0 L635.0,312.8 L635.5,261.0 L636.0,312.5 L636.5,261.0 L637.0,296.1 L637.5,261.0 L638.0,295.8 L638.5,263.2 L639.0,316.2 L639.5,262.2 L640.0,295.8 L640.5,261.9 L641.0,295.8 L641.5,255.9 L642.0,316.2 L642.5,256.8 L643.0,312.6 L643.5,257.0 L644.0,318.7 L644.5,244.0 L645.0,316.1 L645.5,262.8 L646.0,304.8 L646.5,264.8 L647.0,305.5 L647.5,261.0 L648.0,320.7 L648.5,261.0 L649.0,308.8 L649.5,261.0 L650.0,296.8 L650.5,261.0 L651.0,296.8 L651.5,261.0 L652.0,300.5 L652.5,261.0 L653.0,311.0 L653.5,261.0 L654.0,302.2 L654.5,261.0 L655.0,454.0 L655.5,261.0 L656.0,303.0 L656.5,261.0 L657.0,312.1 L657.5,263.1 L658.0,315.5 L658.5,264.2 L659.0,299.6 L659.5,254.1 L660.0,317.8 L660.5,254.1 L661.0,299.6 L661.5,248.4 L662.0,295.8 L662.5,243.1 L663.0,295.8 L663.5,256.6 L664.0,295.6 L664.5,258.0 L665.0,296.8 L665.5,259.5 L666.0,297.2 L666.5,261.8 L667.0,325.6 L667.5,260.2 L668.0,314.3 L668.5,261.0 L669.0,300.4 L669.5,261.0 L670.0,297.7 L670.5,261.0 L671.0,292.4 L671.5,261.0 L672.0,290.8 L672.5,261.0 L673.0,305.4 L673.5,261.0 L674.0,299.8 L674.5,261.0 L675.0,299.9 L675.5,261.0 L676.0,307.4 L676.5,261.0 L677.0,311.5 L677.5,251.8 L678.0,294.2 L678.5,264.4 L679.0,296.5 L679.5,249.9 L680.0,296.5 L680.5,251.0 L681.0,303.3 L681.5,259.8 L682.0,297.6 L682.5,259.8 L683.0,300.3 L683.5,254.8 L684.0,300.3 L684.5,257.6 L685.0,305.7 L685.5,254.2 L686.0,301.2 L686.5,250.9 L687.0,298.0 L687.5,257.8 L688.0,311.5 L688.5,261.0 L689.0,301.2 L689.5,261.0 L690.0,295.8 L690.5,261.0 L691.0,302.2 L691.5,261.0 L692.0,276.6 L692.5,261.0 L693.0,268.3 L693.5,261.0 L694.0,267.2 L694.5,261.0 L695.0,301.8 L695.5,261.0 L696.0,308.9 L696.5,261.0 L697.0,319.1 L697.5,261.0 L698.0,299.6 L698.5,262.1 L699.0,294.0 L699.5,243.1 L700.0,294.0 L700.5,253.9 L701.0,294.0 L701.5,258.4 L702.0,294.0 L702.5,254.9 L703.0,309.0 L703.5,254.7 L704.0,307.5 L704.5,258.4 L705.0,300.4 L705.5,258.4 L706.0,325.6 L706.5,257.1 L707.0,297.9 L707.5,248.0 L708.0,297.9 L708.5,261.0 L709.0,315.8 L709.5,261.0 L710.0,298.2 L710.5,261.0 L711.0,293.4 L711.5,261.0 L712.0,291.4 L712.5,261.0 L713.0,292.5 L713.5,261.0 L714.0,288.3 L714.5,261.0 L715.0,292.3 L715.5,261.0 L716.0,293.8 L716.5,261.0 L717.0,294.6 L717.5,261.0 L718.0,294.6 L718.5,255.8 L719.0,296.1 L719.5,253.7 L720.0,460.8 L720.5,258.2 L721.0,294.6 L721.5,243.1 L722.0,294.6 L722.5,249.0 L723.0,293.1 L723.5,256.7 L724.0,295.0 L724.5,256.7 L725.0,295.6 L725.5,255.0 L726.0,296.2 L726.5,253.5 L727.0,296.8 L727.5,262.0 L728.0,293.5 L728.5,248.0 L729.0,294.0 L729.5,261.0 L730.0,298.9 L730.5,261.0 L731.0,309.3 L731.5,261.0 L732.0,298.5 L732.5,261.0 L733.0,295.2 L733.5,261.0 L734.0,281.5 L734.5,261.0 L735.0,280.5 L735.5,261.0 L736.0,299.2 L736.5,261.0 L737.0,298.5 L737.5,261.0 L738.0,298.5 L738.5,261.0 L739.0,310.9 L739.5,253.8 L740.0,298.8 L740.5,262.7 L741.0,298.8 L741.5,259.1 L742.0,298.8 L742.5,259.1 L743.0,298.8 L743.5,256.1 L744.0,305.0 L744.5,252.5 L745.0,293.9 L745.5,261.3 L746.0,293.9 L746.5,261.3 L747.0,302.7 L747.5,249.9 L748.0,293.5 L748.5,266.5 L749.0,295.4 L749.5,260.4 L750.0,295.4 L750.5,261.0 L751.0,307.9 L751.5,261.0 L752.0,295.5 L752.5,261.0 L753.0,295.5 L753.5,261.0 L754.0,295.5 L754.5,261.0 L755.0,298.9 L755.5,261.0 L756.0,306.0 L756.5,261.0 L757.0,298.5 L757.5,261.0 L758.0,295.8 L758.5,261.0 L759.0,292.9 L759.5,261.0 L760.0,293.3 L760.5,240.1 L761.0,312.4 L761.5,263.5 L762.0,299.5 L762.5,251.2 L763.0,325.2 L763.5,254.2 L764.0,316.7 L764.5,250.7 L765.0,297.0 L765.5,248.7 L766.0,297.0 L766.5,259.0 L767.0,298.9 L767.5,258.9 L768.0,313.8 L768.5,237.2 L769.0,312.3 L769.5,260.3 L770.0,299.6 L770.5,261.0 L771.0,298.9 L771.5,261.0 L772.0,402.1 L772.5,261.0 L773.0,304.4 L773.5,261.0 L774.0,302.7 L774.5,261.0 L775.0,300.2 L775.5,261.0 L776.0,309.9 L776.5,261.0 L777.0,303.1 L777.5,261.0 L778.0,295.2 L778.5,261.0 L779.0,298.1 L779.5,261.0 L780.0,309.8 L780.5,261.0 L781.0,426.7 L781.5,261.7 L782.0,300.5 L782.5,267.0 L783.0,323.7 L783.5,268.3 L784.0,317.1 L784.5,268.4 L785.0,300.2 L785.5,269.0 L786.0,300.2 L786.5,268.9 L787.0,304.0 L787.5,268.6 L788.0,324.1 L788.5,267.2 L789.0,295.7 L789.5,266.0 L790.0,295.5 L790.5,267.7 L791.0,317.4 L791.5,258.8 L792.0,321.3 L792.5,261.0 L793.0,310.4 L793.5,261.0 L794.0,299.6 L794.5,261.0 L795.0,299.6 L795.5,261.0 L796.0,300.8 L796.5,261.0 L797.0,311.5 L797.5,261.0 L798.0,311.5 L798.5,261.0 L799.0,307.5 L799.5,261.0 L800.0,299.7 L800.5,261.0 L801.0,299.7 L801.5,261.0 L802.0,310.2 L802.5,257.4 L803.0,310.1 L803.5,246.0 L804.0,298.6 L804.5,252.3 L805.0,314.8 L805.5,253.2 L806.0,303.2 L806.5,246.9 L807.0,298.8 L807.5,247.2 L808.0,298.8 L808.5,257.1 L809.0,298.8 L809.5,244.0 L810.0,303.1 L810.5,253.9 L811.0,306.1 L811.5,261.0 L812.0,300.4 L812.5,261.0 L813.0,318.7 L813.5,261.0 L814.0,310.2 L814.5,261.0 L815.0,296.8 L815.5,261.0 L816.0,296.8 L816.5,261.0 L817.0,293.6 L817.5,261.0 L818.0,292.3 L818.5,261.0 L819.0,298.2 L819.5,261.0 L820.0,298.2 L820.5,261.0 L821.0,305.6 L821.5,257.7 L822.0,287.9 L822.5,264.1 L823.0,285.0 L823.5,257.3 L824.0,284.9 L824.5,241.1 L825.0,286.7 L825.5,246.6 L826.0,288.2 L826.5,247.6 L827.0,288.3 L827.5,247.8 L828.0,289.6 L828.5,248.3 L829.0,292.4 L829.5,244.4 L830.0,291.3 L830.5,252.2 L831.0,296.7 L831.5,260.7 L832.0,298.5 L832.5,261.0 L833.0,298.5 L833.5,261.0 L834.0,314.2 L834.5,261.0 L835.0,278.0 L835.5,261.0 L836.0,277.5 L836.5,261.0 L837.0,275.5 L837.5,261.0 L838.0,280.2 L838.5,261.0 L839.0,287.3 L839.5,261.0 L840.0,292.3 L840.5,261.0 L841.0,290.9 L841.5,261.0 L842.0,295.7 L842.5,245.0 L843.0,295.7 L843.5,258.9 L844.0,295.7 L844.5,256.2 L845.0,295.7 L845.5,260.5 L846.0,317.4 L846.5,266.6 L847.0,317.1 L847.5,265.5 L848.0,298.9 L848.5,266.1 L849.0,298.9 L849.5,265.1 L850.0,298.9 L850.5,264.0 L851.0,316.5 L851.5,264.0 L852.0,316.7 L852.5,258.8 L853.0,301.5 L853.5,261.0 L854.0,319.3 L854.5,261.0 L855.0,300.0 L855.5,261.0 L856.0,300.0 L856.5,261.0 L857.0,312.5 L857.5,261.0 L858.0,309.8 L858.5,261.0 L859.0,313.8 L859.5,261.0 L860.0,302.0 L860.5,261.0 L861.0,298.6 L861.5,261.0 L862.0,298.6 L862.5,261.0 L863.0,300.1 L863.5,261.0 L864.0,300.3 L864.5,265.0 L865.0,294.0 L865.5,263.9 L866.0,294.0 L866.5,261.3 L867.0,305.0 L867.5,259.3 L868.0,301.1 L868.5,260.1 L869.0,293.4 L869.5,259.2 L870.0,293.4 L870.5,259.5 L871.0,293.4 L871.5,255.1 L872.0,293.4 L872.5,250.9 L873.0,309.5 L873.5,261.0 L874.0,319.7 L874.5,261.0 L875.0,318.9 L875.5,261.0 L876.0,298.9 L876.5,261.0 L877.0,299.1 L877.5,261.0 L878.0,302.6 L878.5,261.0 L879.0,313.4 L879.5,261.0 L880.0,324.6 L880.5,261.0 L881.0,312.2 L881.5,261.0 L882.0,300.7 L882.5,261.0 L883.0,300.7 L883.5,261.0 L884.0,302.4 L884.5,249.0 L885.0,314.7 L885.5,260.8 L886.0,320.9 L886.5,260.8 L887.0,338.4 L887.5,260.8 L888.0,294.5 L888.5,261.2 L889.0,294.5 L889.5,260.2 L890.0,296.3 L890.5,255.2 L891.0,312.8 L891.5,250.9 L892.0,310.1 L892.5,263.1 L893.0,300.1 L893.5,260.0 L894.0,300.9 L894.5,261.0 L895.0,315.4 L895.5,261.0 L896.0,301.1 L896.5,261.0 L897.0,294.4 L897.5,261.0 L898.0,294.4 L898.5,261.0 L899.0,297.7 L899.5,261.0 L900.0,296.4 L900.5,261.0 L901.0,296.4 L901.5,261.0 L902.0,301.7 L902.5,261.0 L903.0,303.4 L903.5,261.0 L904.0,306.0 L904.5,263.1 L905.0,295.7 L905.5,259.9 L906.0,297.8 L906.5,257.0 L907.0,294.2 L907.5,257.0 L908.0,290.4 L908.5,246.0 L909.0,295.5 L909.5,252.7 L910.0,295.5 L910.5,259.1 L911.0,297.6 L911.5,259.1 L912.0,298.7 L912.5,259.1 L913.0,297.3 L913.5,253.9 L914.0,297.3 L914.5,261.0 L915.0,297.3 L915.5,261.0 L916.0,316.8 L916.5,261.0 L917.0,298.0 L917.5,261.0 L918.0,298.0 L918.5,261.0 L919.0,298.0 L919.5,261.0 L920.0,301.8 L920.5,261.0 L921.0,297.1 L921.5,261.0 L922.0,297.1 L922.5,261.0 L923.0,297.1 L923.5,261.0 L924.0,297.1 L924.5,255.8 L925.0,297.1 L925.5,263.0 L926.0,310.3 L926.5,261.5 L927.0,299.7 L927.5,260.1 L928.0,295.5 L928.5,262.4 L929.0,295.5 L929.5,261.5 L930.0,309.9 L930.5,254.0 L931.0,308.7 L931.5,248.8 L932.0,295.7 L932.5,255.4 L933.0,295.7 L933.5,240.1 L934.0,301.2 L934.5,254.8 L935.0,301.5 L935.5,261.0 L936.0,308.9 L936.5,261.0 L937.0,300.8 L937.5,261.0 L938.0,298.3 L938.5,261.0 L939.0,298.3 L939.5,261.0 L940.0,284.4 L940.5,261.0 L941.0,280.6 L941.5,261.0 L942.0,291.9 L942.5,261.0 L943.0,297.5 L943.5,261.0 L944.0,297.5 L944.5,261.0 L945.0,313.4 L945.5,243.1 L946.0,297.9 L946.5,267.1 L947.0,296.7 L947.5,255.4 L948.0,296.7 L948.5,255.9 L949.0,297.1 L949.5,255.6 L950.0,298.1 L950.5,246.1 L951.0,302.4 L951.5,245.0 L952.0,306.6 L952.5,250.1 L953.0,311.9 L953.5,259.8 L954.0,300.9 L954.5,263.0 L955.0,299.4 L955.5,261.0 L956.0,299.4 L956.5,261.0 L957.0,318.4 L957.5,261.0 L958.0,295.5 L958.5,261.0 L959.0,290.8 L959.5,261.0 L960.0,287.2 L960.5,261.0 L961.0,284.2 L961.5,261.0 L962.0,293.5 L962.5,261.0 L963.0,294.2 L963.5,261.0 L964.0,294.2 L964.5,261.0 L965.0,298.9 L965.5,261.0 L966.0,296.8 L966.5,260.0 L967.0,298.2 L967.5,256.4 L968.0,298.2 L968.5,256.0 L969.0,314.8 L969.5,256.0 L970.0,324.6 L970.5,256.0 L971.0,301.5 L971.5,240.1 L972.0,296.8 L972.5,246.3 L973.0,296.8 L973.5,254.4 L974.0,291.2 L974.5,250.8 L975.0,293.7 L975.5,259.7 L976.0,298.3 L976.5,261.0 L977.0,315.7 L977.5,261.0 L978.0,326.2 L978.5,261.0 L979.0,309.5 L979.5,261.0 L980.0,300.0 L980.5,261.0 L981.0,273.5 L981.5,261.0 L982.0,264.8 L982.5,261.0 L983.0,274.9 L983.5,261.0 L984.0,297.7 L984.5,261.0 L985.0,302.0 L985.5,261.0 L986.0,289.3 L986.5,253.1 L987.0,288.2 L987.5,262.6 L988.0,287.1 L988.5,253.4 L989.0,286.4 L989.5,243.1 L990.0,286.6 L990.5,247.4 L991.0,283.2 L991.5,256.7 L992.0,288.1 L992.5,256.7 L993.0,297.0 L993.5,256.7 L994.0,300.0 L994.5,249.6 L995.0,300.0 L995.5,244.0 L996.0,307.5 L996.5,259.6 L997.0,312.4 L997.5,261.0 L998.0,324.6 L998.5,261.0 L999.0,290.6 L999.5,261.0 L1000.0,285.0 L1000.5,261.0 L1001.0,280.7 L1001.5,261.0 L1002.0,275.3 L1002.5,261.0 L1003.0,280.4 L1003.5,261.0 L1004.0,278.9 L1004.5,261.0 L1005.0,278.9 L1005.5,261.0 L1006.0,282.6 L1006.5,261.0 L1007.0,290.3 L1007.5,260.1 L1008.0,296.3 L1008.5,260.0 L1009.0,298.2 L1009.5,238.1 L1010.0,305.6 L1010.5,246.2 L1011.0,297.9 L1011.5,252.7 L1012.0,297.6 L1012.5,253.8 L1013.0,297.6 L1013.5,252.8 L1014.0,302.8 L1014.5,255.1 L1015.0,304.0 L1015.5,246.0 L1016.0,297.3 L1016.5,258.7 L1017.0,298.6 L1017.5,261.0 L1018.0,305.3 L1018.5,261.0 L1019.0,309.9 L1019.5,261.0 L1020.0,296.2 L1020.5,261.0 L1021.0,293.4 L1021.5,261.0 L1022.0,293.4 L1022.5,261.0 L1023.0,293.4 L1023.5,261.0 L1024.0,303.0 L1024.5,261.0 L1025.0,287.0 L1025.5,261.0 L1026.0,281.3 L1026.5,261.0 L1027.0,279.8 L1027.5,261.0 L1028.0,279.0 L1028.5,257.5 L1029.0,283.8 L1029.5,260.8 L1030.0,282.3 L1030.5,258.3 L1031.0,288.9 L1031.5,258.3 L1032.0,293.6 L1032.5,249.3 L1033.0,293.6 L1033.5,249.5 L1034.0,293.6 L1034.5,255.0 L1035.0,299.9 L1035.5,253.7 L1036.0,295.5 L1036.5,252.4 L1037.0,297.4 L1037.5,239.1 L1038.0,297.4 L1038.5,261.0 L1039.0,326.6 L1039.5,261.0 L1040.0,308.4 L1040.5,261.0 L1041.0,301.0 L1041.5,261.0 L1042.0,301.0 L1042.5,261.0 L1043.0,301.0 L1043.5,261.0 L1044.0,302.6 L1044.5,261.0 L1045.0,295.6 L1045.5,261.0 L1046.0,293.5 L1046.5,261.0 L1047.0,306.9 L1047.5,261.0 L1048.0,305.4 L1048.5,238.1 L1049.0,300.5 L1049.5,261.6 L1050.0,289.0 L1050.5,254.7 L1051.0,291.8 L1051.5,255.0 L1052.0,295.2 L1052.5,248.1 L1053.0,305.1 L1053.5,247.5 L1054.0,297.8 L1054.5,254.3 L1055.0,299.9 L1055.5,250.2 L1056.0,313.8 L1056.5,250.2 L1057.0,308.7 L1057.5,239.1 L1058.0,300.1 L1058.5,256.1 L1059.0,300.1 L1059.5,261.0 L1060.0,319.7 L1060.5,261.0 L1061.0,301.7 L1061.5,261.0 L1062.0,293.2 L1062.5,261.0 L1063.0,280.8 L1063.5,261.0 L1064.0,280.1 L1064.5,261.0 L1065.0,278.9 L1065.5,261.0 L1066.0,281.6 L1066.5,261.0 L1067.0,286.0 L1067.5,261.0 L1068.0,292.0 L1068.5,261.0 L1069.0,295.2 L1069.5,243.1 L1070.0,293.7 L1070.5,258.1 L1071.0,293.7 L1071.5,254.9 L1072.0,305.0 L1072.5,254.9 L1073.0,298.1 L1073.5,241.7 L1074.0,293.1 L1074.5,255.6 L1075.0,293.1 L1075.5,257.5 L1076.0,288.8 L1076.5,257.5 L1077.0,286.7 L1077.5,263.4 L1078.0,293.8 L1078.5,265.6 L1079.0,293.8 L1079.5,261.0 L1080.0,293.8 L1080.5,261.0 L1081.0,303.0 L1081.5,261.0 L1082.0,297.0 L1082.5,261.0 L1083.0,297.0 L1083.5,261.0 L1084.0,298.7 L1084.5,261.0 L1085.0,303.0 L1085.5,261.0 L1086.0,292.4 L1086.5,261.0 L1087.0,294.6 L1087.5,261.0 L1088.0,294.6 L1088.5,261.0 L1089.0,290.3 L1089.5,261.0 L1090.0,283.3 L1090.5,259.5 L1091.0,277.2 L1091.5,249.0" fill="none" stroke="#004586" stroke-width="3.3" stroke-linejoin="round" stroke-linecap="round"/>
<path d="M406.4,266.0 L406.5,118.0 L408.7,112.0 L410.1,109.0 L411.1,102.5 L412.3,101.7 L413.8,102.3 L414.3,104.5 L414.4,132.5 L414.7,266.0Z M420.7,266.0 L421.3,134.7 L421.6,115.0 L423.9,115.0 L424.8,106.2 L427.1,106.2 L428.3,117.0 L429.2,131.7 L429.8,164.2 L429.6,266.0Z M441.6,266.0 L441.9,134.7 L442.8,118.0 L446.9,117.6 L448.3,124.8 L449.5,132.7 L450.4,144.5 L450.4,266.0Z M462.6,266.0 L462.6,111.1 L463.9,110.1 L465.3,113.0 L466.2,131.1 L467.4,119.3 L468.8,118.4 L470.2,124.8 L471.1,142.5 L471.5,156.3 L471.1,266.0Z M483.7,266.0 L484.0,154.4 L484.7,127.2 L486.5,126.8 L487.7,138.6 L488.8,144.9 L489.7,153.4 L490.4,146.5 L491.3,145.9 L492.2,150.4 L492.5,266.0Z M503.5,266.0 L503.9,115.0 L505.7,107.1 L506.9,105.8 L508.3,107.1 L510.1,110.1 L511.3,112.1 L511.8,168.1 L512.2,266.0Z M524.0,266.0 L524.5,124.8 L525.4,96.3 L527.5,94.7 L529.3,97.3 L530.2,107.1 L531.0,115.0 L531.9,122.9 L532.5,266.0Z M544.3,266.0 L544.8,130.7 L545.5,115.0 L547.5,113.0 L548.4,103.2 L549.6,99.7 L551.0,100.3 L551.9,107.1 L552.6,117.0 L553.1,134.7 L553.5,266.0Z M565.5,266.0 L565.9,120.9 L566.7,99.3 L568.5,98.3 L570.2,102.2 L571.1,111.1 L572.0,113.0 L572.5,120.9 L573.2,142.5 L573.2,266.0Z M585.6,266.0 L586.1,120.9 L587.3,110.1 L589.5,110.1 L590.9,107.1 L591.9,107.1 L592.7,124.8 L593.4,144.5 L594.1,158.3 L594.4,266.0Z M606.2,266.0 L606.6,109.1 L608.0,108.7 L609.4,114.0 L610.7,104.6 L612.4,104.2 L613.3,107.1 L613.7,134.7 L614.2,154.4 L615.1,213.4 L615.1,266.0Z M626.9,266.0 L627.3,171.1 L628.3,170.1 L628.7,125.8 L630.1,125.4 L630.8,134.7 L631.5,142.9 L632.6,138.2 L633.7,136.6 L635.1,137.0 L635.8,164.2 L636.7,266.0Z M647.8,266.0 L648.0,144.5 L648.7,124.8 L649.5,108.7 L651.8,106.7 L653.2,105.8 L654.5,107.1 L654.8,130.7 L655.3,144.5 L655.7,176.0 L656.2,266.0Z M668.4,266.0 L669.0,120.9 L669.8,105.2 L671.6,104.2 L672.5,111.1 L674.2,111.5 L675.4,113.0 L676.0,144.5 L676.5,266.0Z M688.3,266.0 L689.0,107.1 L690.4,100.3 L691.3,93.4 L693.1,93.0 L693.9,98.9 L695.4,100.3 L696.1,122.9 L696.9,142.5 L696.9,266.0Z M708.8,266.0 L709.3,123.9 L709.8,110.5 L711.6,110.1 L712.8,117.0 L715.5,119.3 L716.9,122.9 L717.6,170.1 L717.6,266.0Z M729.6,266.0 L730.3,211.4 L730.9,124.8 L732.1,111.5 L734.4,111.1 L735.3,115.6 L737.0,116.6 L737.6,132.7 L738.5,193.7 L738.5,266.0Z M750.7,266.0 L751.2,140.6 L751.9,105.2 L753.3,104.2 L755.1,104.2 L756.0,101.6 L757.7,101.6 L758.3,111.1 L759.0,156.3 L759.5,266.0Z M770.7,266.0 L771.3,171.1 L772.5,170.1 L773.0,113.0 L774.5,110.1 L776.1,110.1 L777.0,120.9 L778.4,131.7 L779.6,132.7 L780.2,266.0Z M793.0,266.0 L793.5,144.5 L793.8,108.1 L795.2,107.5 L795.8,131.7 L797.0,132.3 L797.9,118.0 L800.0,118.0 L800.9,120.9 L801.4,266.0Z M811.6,266.0 L812.5,138.6 L813.4,118.9 L814.8,111.5 L817.8,109.1 L819.1,110.1 L820.0,120.9 L820.5,266.0Z M832.9,266.0 L833.2,144.5 L834.1,110.1 L834.7,100.8 L836.2,100.8 L836.8,112.1 L838.2,112.6 L839.8,112.1 L840.7,124.8 L841.5,266.0Z M853.9,266.0 L854.3,175.0 L854.8,134.7 L855.2,103.2 L856.9,102.8 L858.0,110.1 L858.9,134.7 L859.8,144.5 L861.0,152.4 L862.4,154.4 L862.8,266.0Z M874.3,266.0 L874.6,122.9 L875.7,102.2 L877.8,101.8 L878.5,118.9 L879.6,120.9 L880.0,170.1 L881.0,161.2 L882.3,159.9 L883.5,164.2 L883.5,266.0Z M894.5,266.0 L894.9,118.9 L896.6,118.0 L899.3,118.0 L900.7,116.0 L901.9,117.0 L902.5,132.7 L903.2,148.5 L903.2,266.0Z M915.0,266.0 L915.5,183.9 L916.9,176.0 L917.6,106.2 L919.0,105.2 L920.3,109.1 L920.8,122.9 L922.2,124.8 L922.9,164.2 L923.4,266.0Z M935.6,266.0 L935.8,124.8 L936.5,103.2 L938.3,102.2 L939.2,110.1 L940.6,104.2 L942.4,105.2 L943.6,110.1 L944.1,144.5 L944.5,266.0Z M955.9,266.0 L956.3,164.2 L956.8,117.0 L958.0,111.1 L958.6,96.9 L960.7,96.3 L961.4,115.0 L963.3,116.0 L964.2,120.9 L964.7,266.0Z M977.0,266.0 L977.5,164.2 L978.0,113.0 L978.9,102.2 L979.6,93.4 L981.4,93.0 L981.9,102.2 L984.0,102.8 L984.5,136.6 L985.4,183.9 L985.4,266.0Z M997.6,266.0 L997.8,105.2 L999.9,103.2 L1002.0,99.3 L1003.9,98.9 L1005.2,105.2 L1005.5,162.2 L1006.1,266.0Z M1017.5,266.0 L1017.8,117.0 L1018.7,103.2 L1020.5,100.8 L1022.8,100.3 L1024.6,100.8 L1025.3,124.8 L1026.4,142.5 L1026.7,266.0Z M1038.9,266.0 L1039.1,100.3 L1041.2,99.7 L1041.9,115.0 L1043.0,113.0 L1044.4,112.1 L1045.6,115.0 L1046.5,132.7 L1047.4,266.0Z M1059.6,266.0 L1060.1,130.7 L1060.6,95.3 L1061.9,93.8 L1064.2,94.4 L1064.9,104.2 L1066.8,104.2 L1067.5,160.3 L1068.0,266.0Z M1079.8,266.0 L1080.2,150.4 L1080.7,115.0 L1082.2,107.1 L1083.7,105.8 L1085.2,110.1 L1086.9,109.1 L1088.2,113.0 L1088.7,152.4 L1089.1,266.0Z" fill="#004586" stroke="#004586" stroke-width="1" stroke-linejoin="round"/>
<path d="M148.2,189 V289 M203.5,128 V159 M221.2,221 V266 M246.4,192 V266 M255.3,204 V260 M272.4,180 V233 M299.6,124 V272 M353.8,180 V263 M367.7,212 V254 M378.0,204 V266 M86.0,198 V248 M94.0,218 V254 M122.0,203 V248 M183.7,218 V248 M233.0,130 V150 M166.5,150 V196 M202.8,160 V240 M299.0,236 V300 M331.5,150 V181 M384.5,262 V300 M303.5,150 V200 M345.9,150 V215 M340.5,260 V300 M420.0,268 V292 M435.7,274 V297 M452.9,258 V277 M470.3,269 V295 M478.5,265 V281 M491.5,267 V279 M500.9,262 V289 M516.3,260 V285 M524.8,268 V282 M531.8,272 V288 M541.2,274 V300 M551.4,274 V294 M565.9,261 V288 M580.5,274 V300 M590.7,264 V278 M599.3,259 V275 M613.0,258 V280 M623.7,263 V288 M636.0,263 V283 M650.7,258 V286 M658.0,270 V296 M665.2,271 V289 M678.5,258 V270 M687.5,274 V289 M702.9,273 V300 M713.6,264 V284 M729.2,259 V283 M744.9,272 V285 M762.3,259 V277 M776.1,273 V291 M793.2,267 V284 M803.7,261 V274 M812.4,269 V297 M821.1,258 V286 M834.0,264 V280 M847.5,272 V291 M859.2,258 V285 M866.5,266 V291 M875.0,270 V297 M888.9,271 V285 M900.7,260 V286 M910.9,265 V293 M927.3,274 V293 M939.7,270 V290 M949.9,264 V279 M961.0,274 V300 M974.9,266 V283 M982.9,262 V287 M999.4,264 V288 M1015.0,269 V292 M1030.3,264 V287 M1040.4,266 V290 M1055.0,262 V290 M1069.2,267 V280 M1082.2,262 V285" stroke="#fff" stroke-opacity="0.4" stroke-width="0.8" fill="none"/>
<path d="M1121,343.5 H1151" stroke="#004586" stroke-width="3" fill="none"/>
<text x="1155" y="346.7" font-size="13.3" fill="#000">t2.small</text>
<text x="53.5" y="17.8" font-size="13" text-anchor="end" fill="#000">50000</text>
<text x="53.5" y="78.4" font-size="13" text-anchor="end" fill="#000">45000</text>
<text x="53.5" y="139.0" font-size="13" text-anchor="end" fill="#000">40000</text>
<text x="53.5" y="199.6" font-size="13" text-anchor="end" fill="#000">35000</text>
<text x="53.5" y="260.2" font-size="13" text-anchor="end" fill="#000">30000</text>
<text x="53.5" y="320.8" font-size="13" text-anchor="end" fill="#000">25000</text>
<text x="53.5" y="381.4" font-size="13" text-anchor="end" fill="#000">20000</text>
<text x="53.5" y="442.0" font-size="13" text-anchor="end" fill="#000">15000</text>
<text x="53.5" y="502.6" font-size="13" text-anchor="end" fill="#000">10000</text>
<text x="53.5" y="563.2" font-size="13" text-anchor="end" fill="#000">5000</text>
<text x="53.5" y="623.8" font-size="13" text-anchor="end" fill="#000">0</text>
<defs><filter id="th" x="0" y="0" width="1220" height="686" filterUnits="userSpaceOnUse" color-interpolation-filters="sRGB"><feComponentTransfer><feFuncA type="discrete" tableValues="0 0 0 0 1 1 1 1 1"/></feComponentTransfer></filter></defs>
<g filter="url(#th)">
<text transform="translate(67.1,637.9) rotate(-45)" font-size="12" letter-spacing="0.3" text-anchor="end" fill="#000">30</text>
<text transform="translate(89.8,637.9) rotate(-45)" font-size="12" letter-spacing="0.3" text-anchor="end" fill="#000">360</text>
<text transform="translate(112.4,637.9) rotate(-45)" font-size="12" letter-spacing="0.3" text-anchor="end" fill="#000">690</text>
<text transform="translate(135.1,637.9) rotate(-45)" font-size="12" letter-spacing="0.3" text-anchor="end" fill="#000">1020</text>
<text transform="translate(157.8,637.9) rotate(-45)" font-size="12" letter-spacing="0.3" text-anchor="end" fill="#000">1350</text>
<text transform="translate(180.4,637.9) rotate(-45)" font-size="12" letter-spacing="0.3" text-anchor="end" fill="#000">1680</text>
<text transform="translate(203.1,637.9) rotate(-45)" font-size="12" letter-spacing="0.3" text-anchor="end" fill="#000">2010</text>
<text transform="translate(225.8,637.9) rotate(-45)" font-size="12" letter-spacing="0.3" text-anchor="end" fill="#000">2340</text>
<text transform="translate(248.4,637.9) rotate(-45)" font-size="12" letter-spacing="0.3" text-anchor="end" fill="#000">2670</text>
<text transform="translate(271.1,637.9) rotate(-45)" font-size="12" letter-spacing="0.3" text-anchor="end" fill="#000">3000</text>
<text transform="translate(293.7,637.9) rotate(-45)" font-size="12" letter-spacing="0.3" text-anchor="end" fill="#000">3330</text>
<text transform="translate(316.4,637.9) rotate(-45)" font-size="12" letter-spacing="0.3" text-anchor="end" fill="#000">3660</text>
<text transform="translate(339.1,637.9) rotate(-45)" font-size="12" letter-spacing="0.3" text-anchor="end" fill="#000">3990</text>
<text transform="translate(361.7,637.9) rotate(-45)" font-size="12" letter-spacing="0.3" text-anchor="end" fill="#000">4320</text>
<text transform="translate(384.4,637.9) rotate(-45)" font-size="12" letter-spacing="0.3" text-anchor="end" fill="#000">4650</text>
<text transform="translate(407.0,637.9) rotate(-45)" font-size="12" letter-spacing="0.3" text-anchor="end" fill="#000">4980</text>
<text transform="translate(429.7,637.9) rotate(-45)" font-size="12" letter-spacing="0.3" text-anchor="end" fill="#000">5310</text>
<text transform="translate(452.4,637.9) rotate(-45)" font-size="12" letter-spacing="0.3" text-anchor="end" fill="#000">5640</text>
<text transform="translate(475.0,637.9) rotate(-45)" font-size="12" letter-spacing="0.3" text-anchor="end" fill="#000">5970</text>
<text transform="translate(497.7,637.9) rotate(-45)" font-size="12" letter-spacing="0.3" text-anchor="end" fill="#000">6300</text>
<text transform="translate(520.3,637.9) rotate(-45)" font-size="12" letter-spacing="0.3" text-anchor="end" fill="#000">6630</text>
<text transform="translate(543.0,637.9) rotate(-45)" font-size="12" letter-spacing="0.3" text-anchor="end" fill="#000">6960</text>
<text transform="translate(565.6,637.9) rotate(-45)" font-size="12" letter-spacing="0.3" text-anchor="end" fill="#000">7290</text>
<text transform="translate(588.3,637.9) rotate(-45)" font-size="12" letter-spacing="0.3" text-anchor="end" fill="#000">7620</text>
<text transform="translate(611.0,637.9) rotate(-45)" font-size="12" letter-spacing="0.3" text-anchor="end" fill="#000">7950</text>
<text transform="translate(633.6,637.9) rotate(-45)" font-size="12" letter-spacing="0.3" text-anchor="end" fill="#000">8280</text>
<text transform="translate(656.3,637.9) rotate(-45)" font-size="12" letter-spacing="0.3" text-anchor="end" fill="#000">8610</text>
<text transform="translate(679.0,637.9) rotate(-45)" font-size="12" letter-spacing="0.3" text-anchor="end" fill="#000">8940</text>
<text transform="translate(701.6,637.9) rotate(-45)" font-size="12" letter-spacing="0.3" text-anchor="end" fill="#000">9270</text>
<text transform="translate(724.3,637.9) rotate(-45)" font-size="12" letter-spacing="0.3" text-anchor="end" fill="#000">9600</text>
<text transform="translate(746.9,637.9) rotate(-45)" font-size="12" letter-spacing="0.3" text-anchor="end" fill="#000">9930</text>
<text transform="translate(769.6,637.9) rotate(-45)" font-size="12" letter-spacing="0.3" text-anchor="end" fill="#000">10260</text>
<text transform="translate(792.2,637.9) rotate(-45)" font-size="12" letter-spacing="0.3" text-anchor="end" fill="#000">10590</text>
<text transform="translate(814.9,637.9) rotate(-45)" font-size="12" letter-spacing="0.3" text-anchor="end" fill="#000">10920</text>
<text transform="translate(837.6,637.9) rotate(-45)" font-size="12" letter-spacing="0.3" text-anchor="end" fill="#000">11250</text>
<text transform="translate(860.2,637.9) rotate(-45)" font-size="12" letter-spacing="0.3" text-anchor="end" fill="#000">11580</text>
<text transform="translate(882.9,637.9) rotate(-45)" font-size="12" letter-spacing="0.3" text-anchor="end" fill="#000">11910</text>
<text transform="translate(905.6,637.9) rotate(-45)" font-size="12" letter-spacing="0.3" text-anchor="end" fill="#000">12240</text>
<text transform="translate(928.2,637.9) rotate(-45)" font-size="12" letter-spacing="0.3" text-anchor="end" fill="#000">12570</text>
<text transform="translate(950.9,637.9) rotate(-45)" font-size="12" letter-spacing="0.3" text-anchor="end" fill="#000">12900</text>
<text transform="translate(973.5,637.9) rotate(-45)" font-size="12" letter-spacing="0.3" text-anchor="end" fill="#000">13230</text>
<text transform="translate(996.2,637.9) rotate(-45)" font-size="12" letter-spacing="0.3" text-anchor="end" fill="#000">13560</text>
<text transform="translate(1018.9,637.9) rotate(-45)" font-size="12" letter-spacing="0.3" text-anchor="end" fill="#000">13890</text>
<text transform="translate(1041.5,637.9) rotate(-45)" font-size="12" letter-spacing="0.3" text-anchor="end" fill="#000">14220</text>
<text transform="translate(1064.2,637.9) rotate(-45)" font-size="12" letter-spacing="0.3" text-anchor="end" fill="#000">14550</text>
<text transform="translate(1086.8,637.9) rotate(-45)" font-size="12" letter-spacing="0.3" text-anchor="end" fill="#000">14880</text>
</g>
</svg>
</body></html>
